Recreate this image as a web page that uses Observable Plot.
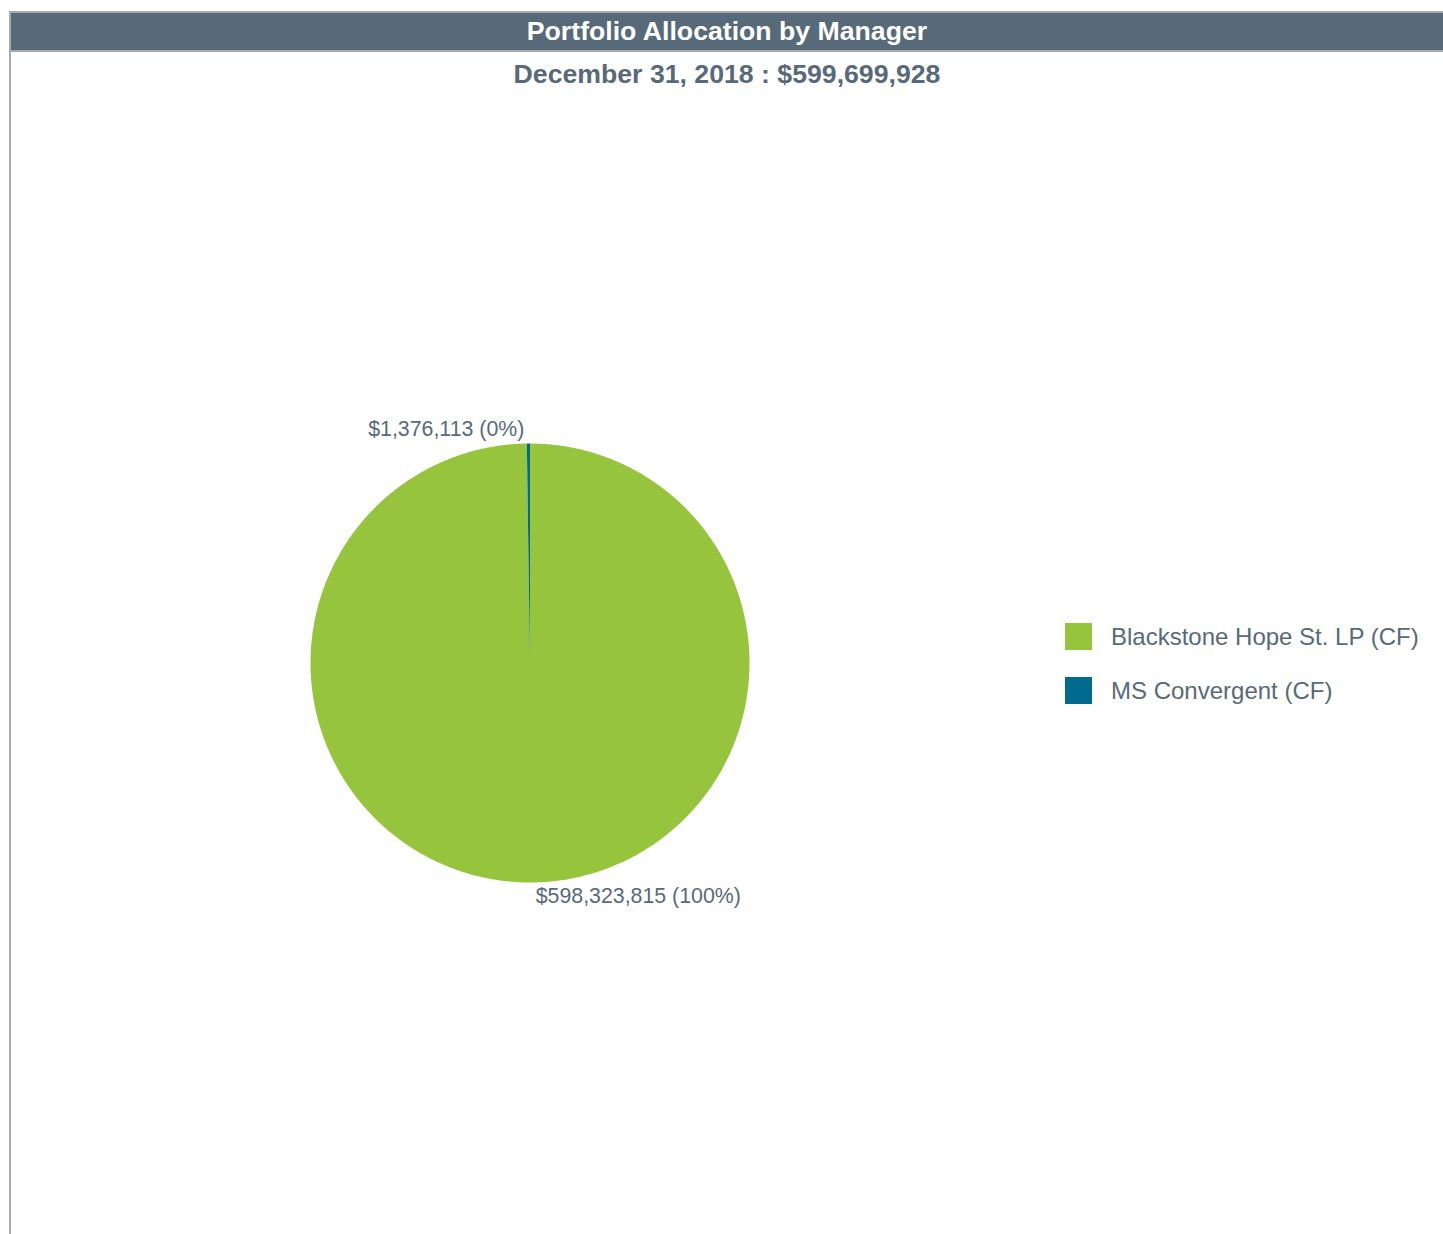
<!DOCTYPE html>
<html>
<head>
<meta charset="utf-8">
<script src="https://cdn.jsdelivr.net/npm/d3@7"></script>
<script src="https://cdn.jsdelivr.net/npm/@observablehq/plot@0.6"></script>
<style>
  html, body { margin: 0; padding: 0; background: #fff; }
  body { width: 1443px; height: 1234px; position: relative; overflow: hidden;
         font-family: "Liberation Sans", Arial, Helvetica, sans-serif; }
  #frame { position: absolute; left: 9px; top: 11px; width: 1432px; height: 1223px;
           border-left: 2px solid #aaaaaa; }
  #titlebar { background: #576a79; border-top: 2px solid #aaaaaa; border-bottom: 2px solid #aaaaaa;
              height: 37px; line-height: 37px; color: #fff; font-weight: bold;
              font-size: 26.67px; text-align: center; }
  #subtitle { color: #576a79; font-weight: bold; font-size: 26.67px; text-align: center;
              margin-top: 7px; line-height: 30px; }
  #chart { position: absolute; left: 0; top: 100px; }
  #legend { position: absolute; left: 1065px; top: 623px; }
  .item { display: flex; align-items: center; height: 27px; margin-bottom: 27px; }
  .sw { width: 27px; height: 27px; margin-right: 19px; }
  .lab { color: #576a79; font-size: 24px; white-space: nowrap; }
</style>
</head>
<body>
<div id="frame">
  <div id="titlebar"></div>
  <div id="subtitle"></div>
</div>
<div id="chart"></div>
<div id="legend"></div>
<script>
const titleText = "Portfolio Allocation by Manager";
const subtitleText = "December 31, 2018 : $599,699,928";
const managers = ["Blackstone Hope St. LP (CF)", "MS Convergent (CF)"];
const values = [598323815, 1376113];
const colors = ["#97c43d", "#006b8f"];

document.getElementById("titlebar").textContent = titleText;
document.getElementById("subtitle").textContent = subtitleText;

const total = d3.sum(values);
const arcs = d3.pie().sort(null).value(d => d.value)(managers.map((name, i) => ({name, value: values[i]})));

// polygon outline points for each slice (unit circle, centre 0,0)
const pts = [];
arcs.forEach(a => {
  const n = Math.max(2, Math.ceil((a.endAngle - a.startAngle) / (Math.PI / 360)));
  pts.push({name: a.data.name, x: 0, y: 0});
  for (let k = 0; k <= n; k++) {
    const t = a.startAngle + (a.endAngle - a.startAngle) * k / n;
    pts.push({name: a.data.name, x: Math.sin(t), y: Math.cos(t)});
  }
});

const R = 219.5, cx = 529.5, cy = 562.5, off = 14 / R;
const fmt = d3.format(",");
const labels = arcs.map(a => {
  const m = (a.startAngle + a.endAngle) / 2;
  return {
    name: a.data.name,
    x: Math.sin(m) * (1 + off),
    y: Math.cos(m) * (1 + off),
    right: Math.sin(m) >= 0,
    text: "$" + fmt(a.data.value) + " (" + Math.round(a.data.value / total * 100) + "%)"
  };
});

const plot = Plot.plot({
  width: 1443,
  height: 1100,
  margin: 0,
  style: {overflow: "visible", fontFamily: "'Liberation Sans', Arial, sans-serif"},
  x: {domain: [-1, 1], range: [cx - R, cx + R], axis: null},
  y: {domain: [-1, 1], range: [cy + R, cy - R], axis: null},
  color: {domain: managers, range: colors},
  marks: [
    Plot.line(pts, {x: "x", y: "y", z: "name", fill: "name", stroke: null}),
    Plot.text(labels.filter(d => d.right), {x: "x", y: "y", text: "text", textAnchor: "start", dx: 4,
      fill: "#576a79", fontSize: 21.33}),
    Plot.text(labels.filter(d => !d.right), {x: "x", y: "y", text: "text", textAnchor: "end", dx: -4,
      fill: "#576a79", fontSize: 21.33})
  ]
});
document.getElementById("chart").appendChild(plot);

const color = plot.scale("color");
const legend = document.getElementById("legend");
managers.forEach(name => {
  const it = document.createElement("div");
  it.className = "item";
  const sw = document.createElement("div");
  sw.className = "sw";
  sw.style.background = color.apply(name);
  const lab = document.createElement("div");
  lab.className = "lab";
  lab.textContent = name;
  it.appendChild(sw); it.appendChild(lab);
  legend.appendChild(it);
});
</script>
</body>
</html>
